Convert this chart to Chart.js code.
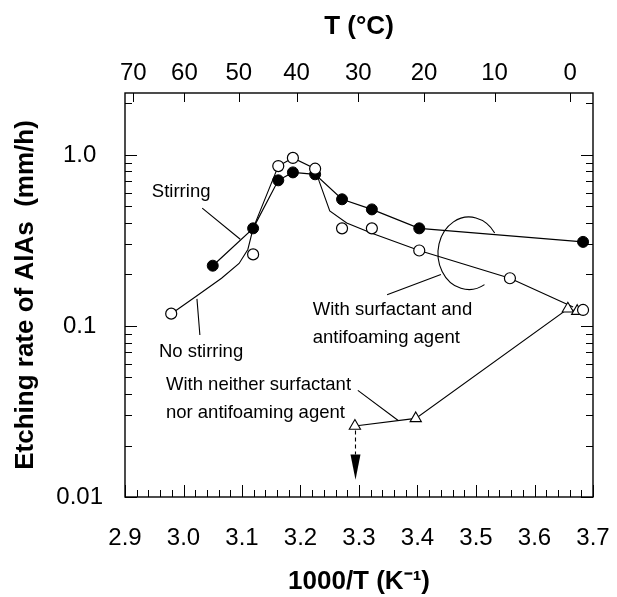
<!DOCTYPE html>
<html>
<head>
<meta charset="utf-8">
<script src="https://cdn.jsdelivr.net/npm/chart.js@4.4.0/dist/chart.umd.min.js"></script>
<style>
  html, body { margin: 0; padding: 0; background: #fff; }
  canvas { display: block; }
</style>
</head>
<body>
<canvas id="etchChart" width="617" height="597"></canvas>
<script>
// Stirring (filled circles)
const stirX = [3.050, 3.119, 3.162, 3.187, 3.225, 3.271, 3.322, 3.403, 3.683];
const stirY = [0.225, 0.372, 0.71, 0.79, 0.77, 0.55, 0.48, 0.372, 0.31];

// No stirring (open circles) and its hand-drawn curve
const noStirX = [2.979, 3.119, 3.162, 3.187, 3.225, 3.271, 3.322, 3.403, 3.558, 3.683];
const noStirY = [0.118, 0.262, 0.86, 0.96, 0.83, 0.372, 0.372, 0.276, 0.19, 0.124];
const curveX = [2.978, 3.023, 3.065, 3.095, 3.110, 3.119, 3.162, 3.187, 3.225, 3.232, 3.250, 3.279, 3.322, 3.403, 3.558, 3.666];
const curveY = [0.117, 0.150, 0.190, 0.232, 0.280, 0.372, 0.86, 0.96, 0.83, 0.70, 0.47, 0.40, 0.348, 0.276, 0.19, 0.129];

// With neither surfactant nor antifoaming agent (triangles)
const triX = [3.293, 3.397, 3.657, 3.673];
const triY = [0.026, 0.0288, 0.126, 0.122];

// axes
const xTickValues = [2.9, 3.0, 3.1, 3.2, 3.3, 3.4, 3.5, 3.6, 3.7];
const yTickValues = [0.01, 0.1, 1];
const yTickLabels = ["0.01", "0.1", "1.0"];
const tempLabels = [70, 60, 50, 40, 30, 20, 10, 0];

// annotations (data coordinates)
const notes = [
  { lines: ["Stirring"], x: 2.996, y: 0.605, align: "center" },
  { lines: ["No stirring"], x: 3.030, y: 0.0703, align: "center" },
  { lines: ["With surfactant and", "antifoaming agent"], x: 3.221, y: 0.124, align: "left" },
  { lines: ["With neither surfactant", "nor antifoaming agent"], x: 2.970, y: 0.045, align: "left" },
];
const leaders = [
  [3.032, 0.488, 3.097, 0.321],
  [3.023, 0.144, 3.028, 0.0885],
  [3.348, 0.152, 3.440, 0.200],
  [3.298, 0.042, 3.367, 0.028],
];
const bracket = { x: 3.488, y: 0.266, dx: 0.053, dlog: 0.212 };
const arrow = { x: 3.294, from: 0.0245, base: 0.0177, tip: 0.0126 };

const FONT = '"Liberation Sans", Arial, Helvetica, sans-serif';
Chart.defaults.font.family = FONT;
Chart.defaults.color = "#000";

const toPts = (xs, ys) => xs.map((x, i) => ({ x: x, y: ys[i] }));

const framePlugin = {
  id: "frame",
  afterDatasetsDraw(chart) {
    const { ctx, chartArea: a, scales } = chart;
    const x = scales.x, y = scales.y, top = scales.x2;
    ctx.save();
    ctx.strokeStyle = "#000";
    ctx.fillStyle = "#000";

    // box
    ctx.lineWidth = 1.4;
    ctx.strokeRect(a.left, a.top, a.right - a.left, a.bottom - a.top);

    // inward ticks
    ctx.lineWidth = 1;
    ctx.beginPath();
    for (let i = 0; i <= 40; i++) {
      const px = Math.round(x.getPixelForValue(xTickValues[0] + i * 0.02)) + 0.5;
      const len = i % 5 === 0 ? 12 : 7;
      ctx.moveTo(px, a.bottom);
      ctx.lineTo(px, a.bottom - len);
    }
    tempLabels.forEach((t) => {
      const px = Math.round(top.getPixelForValue(1000 / (t + 273.15))) + 0.5;
      ctx.moveTo(px, a.top);
      ctx.lineTo(px, a.top + 9);
    });
    for (let k = -2; k <= 0; k++) {
      for (let m = 1; m <= 9; m++) {
        const v = m * Math.pow(10, k);
        if (v > y.max) break;
        const py = Math.round(y.getPixelForValue(v)) + 0.5;
        const len = m === 1 ? 12 : 7;
        ctx.moveTo(a.left, py);
        ctx.lineTo(a.left + len, py);
        ctx.moveTo(a.right, py);
        ctx.lineTo(a.right - len, py);
      }
    }
    ctx.stroke();

    // leader lines
    ctx.lineWidth = 1.1;
    ctx.beginPath();
    leaders.forEach((l) => {
      ctx.moveTo(x.getPixelForValue(l[0]), y.getPixelForValue(l[1]));
      ctx.lineTo(x.getPixelForValue(l[2]), y.getPixelForValue(l[3]));
    });
    ctx.stroke();

    // open bracket ellipse
    const cx = x.getPixelForValue(bracket.x);
    const cy = y.getPixelForValue(bracket.y);
    const rx = x.getPixelForValue(bracket.x + bracket.dx) - cx;
    const ry = cy - y.getPixelForValue(bracket.y * Math.pow(10, bracket.dlog));
    ctx.beginPath();
    ctx.ellipse(cx, cy, rx, ry, 0, (60 * Math.PI) / 180, (326 * Math.PI) / 180);
    ctx.stroke();

    // dashed arrow
    const ax = x.getPixelForValue(arrow.x);
    const yBase = y.getPixelForValue(arrow.base);
    ctx.setLineDash([4, 3]);
    ctx.beginPath();
    ctx.moveTo(ax, y.getPixelForValue(arrow.from));
    ctx.lineTo(ax, yBase);
    ctx.stroke();
    ctx.setLineDash([]);
    ctx.beginPath();
    ctx.moveTo(ax - 5, yBase);
    ctx.lineTo(ax + 5, yBase);
    ctx.lineTo(ax, y.getPixelForValue(arrow.tip));
    ctx.closePath();
    ctx.fill();

    // texts
    ctx.font = "18.5px " + FONT;
    ctx.textBaseline = "middle";
    notes.forEach((n) => {
      ctx.textAlign = n.align;
      const px = x.getPixelForValue(n.x);
      const py = y.getPixelForValue(n.y);
      n.lines.forEach((s, i) => ctx.fillText(s, px, py + i * 28));
    });
    ctx.restore();
  },
};

new Chart(document.getElementById("etchChart"), {
  type: "scatter",
  data: {
    datasets: [
      {
        label: "No stirring",
        data: toPts(noStirX, noStirY),
        showLine: false,
        pointRadius: 5.5,
        pointBackgroundColor: "#fff",
        pointBorderColor: "#000",
        pointBorderWidth: 1.2,
      },
      {
        label: "Stirring",
        data: toPts(stirX, stirY),
        showLine: true,
        borderColor: "#000",
        borderWidth: 1.2,
        pointRadius: 5.5,
        pointBackgroundColor: "#000",
        pointBorderColor: "#000",
        pointBorderWidth: 1,
      },
      {
        label: "With neither surfactant nor antifoaming agent",
        data: toPts(triX, triY),
        showLine: true,
        borderColor: "#000",
        borderWidth: 1.1,
        pointStyle: "triangle",
        pointRadius: 6.5,
        pointBackgroundColor: "#fff",
        pointBorderColor: "#000",
        pointBorderWidth: 1.1,
      },
      {
        label: "No stirring curve",
        data: toPts(curveX, curveY),
        showLine: true,
        borderColor: "#000",
        borderWidth: 1.1,
        pointRadius: 0,
      },
    ],
  },
  options: {
    responsive: false,
    animation: false,
    layout: { padding: { left: 0, right: 24, top: 0, bottom: 0 } },
    plugins: {
      legend: { display: false },
      tooltip: { enabled: false },
    },
    scales: {
      x: {
        type: "linear",
        position: "bottom",
        min: 2.9,
        max: 3.7,
        afterBuildTicks: (s) => {
          s.ticks = xTickValues.map((v) => ({ value: v }));
        },
        afterFit: (s) => {
          s.height = 100;
          s.paddingLeft = 0;
          s.paddingRight = 0;
        },
        ticks: {
          autoSkip: false,
          maxRotation: 0,
          padding: 27,
          font: { size: 24 },
          callback: (v) => Number(v).toFixed(1),
        },
        grid: { display: true, drawOnChartArea: false, drawTicks: false },
        border: { display: false },
        title: {
          display: true,
          text: "1000/T (K\u207B\u00B9)",
          font: { size: 26, weight: "bold" },
          padding: { top: 0, bottom: 0 },
        },
      },
      x2: {
        type: "linear",
        position: "top",
        min: 2.9,
        max: 3.7,
        afterBuildTicks: (s) => {
          s.ticks = tempLabels.map((t) => ({ value: 1000 / (t + 273.15) }));
        },
        afterFit: (s) => {
          s.height = 93;
          s.paddingLeft = 0;
          s.paddingRight = 0;
        },
        ticks: {
          autoSkip: false,
          maxRotation: 0,
          padding: 5,
          font: { size: 24 },
          callback: (v) => String(Math.round(1000 / v - 273.15)),
        },
        grid: { display: true, drawOnChartArea: false, drawTicks: false },
        border: { display: false },
        title: {
          display: true,
          text: "T (\u00B0C)",
          font: { size: 26, weight: "bold" },
          padding: { top: 11, bottom: 0 },
        },
      },
      y: {
        type: "logarithmic",
        min: 0.01,
        max: 2.3,
        afterBuildTicks: (s) => {
          s.ticks = yTickValues.map((v) => ({ value: v }));
        },
        afterFit: (s) => {
          s.width = 125;
          s.paddingTop = 0;
          s.paddingBottom = 0;
        },
        ticks: {
          autoSkip: false,
          crossAlign: "center",
          padding: 22,
          font: { size: 24 },
          callback: (v) => yTickLabels[yTickValues.indexOf(v)],
        },
        grid: { display: true, drawOnChartArea: false, drawTicks: false },
        border: { display: false },
        title: {
          display: true,
          text: "Etching rate of AlAs  (mm/h)",
          font: { size: 26, weight: "bold" },
          padding: { top: 10, bottom: 0 },
        },
      },
    },
  },
  plugins: [framePlugin],
});
</script>
</body>
</html>
